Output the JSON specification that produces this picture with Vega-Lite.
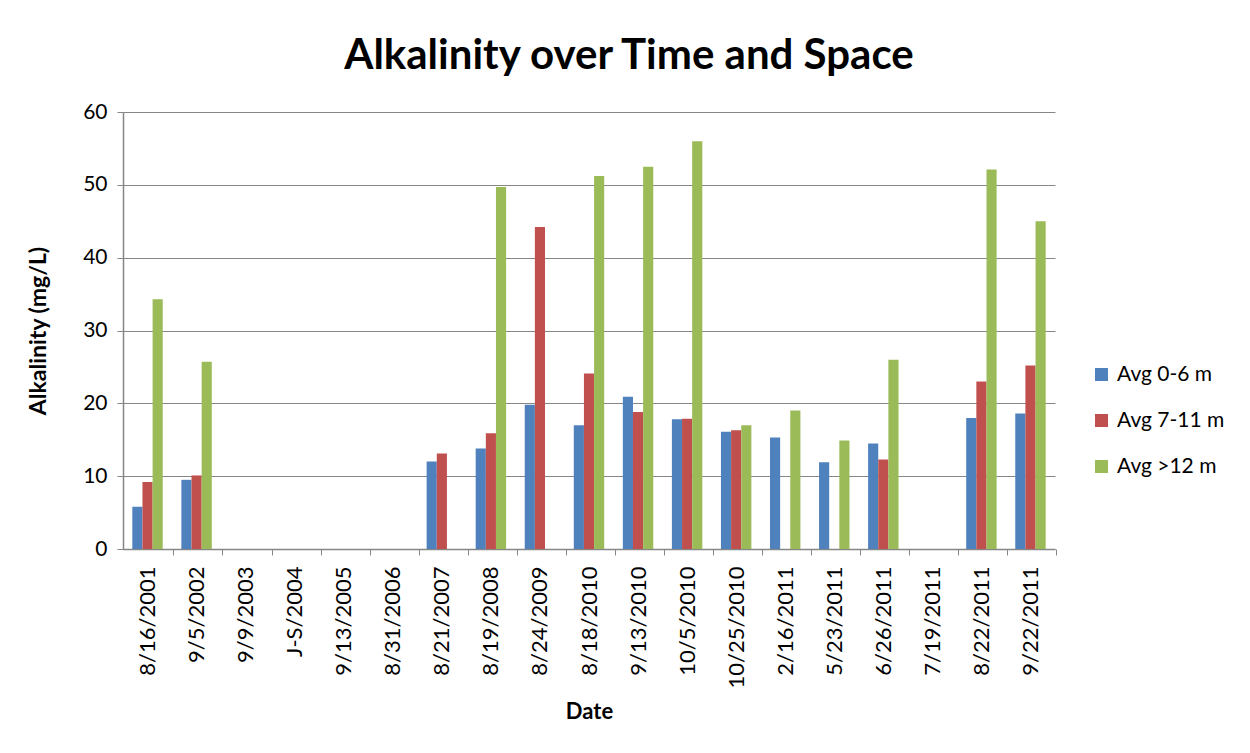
{
  "$schema": "https://vega.github.io/schema/vega-lite/v6.json",
  "autosize": {"type": "none"},
  "padding": {"left": 123, "top": 112, "right": 195, "bottom": 204},
  "width": 932,
  "height": 437,
  "background": "white",
  "title": {
    "text": "Alkalinity over Time and Space",
    "font": "Lato",
    "fontSize": 42,
    "fontWeight": "bold",
    "color": "#000000",
    "anchor": "middle",
    "dx": 40,
    "offset": 23
  },
  "data": {
    "values": [
      {"date": "8/16/2001", "series": "Avg 0-6 m", "value": 5.8},
      {"date": "8/16/2001", "series": "Avg 7-11 m", "value": 9.2},
      {"date": "8/16/2001", "series": "Avg >12 m", "value": 34.3},
      {"date": "9/5/2002", "series": "Avg 0-6 m", "value": 9.5},
      {"date": "9/5/2002", "series": "Avg 7-11 m", "value": 10.1},
      {"date": "9/5/2002", "series": "Avg >12 m", "value": 25.7},
      {"date": "8/21/2007", "series": "Avg 0-6 m", "value": 12.0},
      {"date": "8/21/2007", "series": "Avg 7-11 m", "value": 13.1},
      {"date": "8/19/2008", "series": "Avg 0-6 m", "value": 13.8},
      {"date": "8/19/2008", "series": "Avg 7-11 m", "value": 15.9},
      {"date": "8/19/2008", "series": "Avg >12 m", "value": 49.7},
      {"date": "8/24/2009", "series": "Avg 0-6 m", "value": 19.8},
      {"date": "8/24/2009", "series": "Avg 7-11 m", "value": 44.2},
      {"date": "8/18/2010", "series": "Avg 0-6 m", "value": 17.0},
      {"date": "8/18/2010", "series": "Avg 7-11 m", "value": 24.1},
      {"date": "8/18/2010", "series": "Avg >12 m", "value": 51.2},
      {"date": "9/13/2010", "series": "Avg 0-6 m", "value": 20.9},
      {"date": "9/13/2010", "series": "Avg 7-11 m", "value": 18.8},
      {"date": "9/13/2010", "series": "Avg >12 m", "value": 52.5},
      {"date": "10/5/2010", "series": "Avg 0-6 m", "value": 17.8},
      {"date": "10/5/2010", "series": "Avg 7-11 m", "value": 17.9},
      {"date": "10/5/2010", "series": "Avg >12 m", "value": 56.0},
      {"date": "10/25/2010", "series": "Avg 0-6 m", "value": 16.1},
      {"date": "10/25/2010", "series": "Avg 7-11 m", "value": 16.3},
      {"date": "10/25/2010", "series": "Avg >12 m", "value": 17.0},
      {"date": "2/16/2011", "series": "Avg 0-6 m", "value": 15.3},
      {"date": "2/16/2011", "series": "Avg >12 m", "value": 19.0},
      {"date": "5/23/2011", "series": "Avg 0-6 m", "value": 11.9},
      {"date": "5/23/2011", "series": "Avg >12 m", "value": 14.9},
      {"date": "6/26/2011", "series": "Avg 0-6 m", "value": 14.5},
      {"date": "6/26/2011", "series": "Avg 7-11 m", "value": 12.3},
      {"date": "6/26/2011", "series": "Avg >12 m", "value": 26.0},
      {"date": "8/22/2011", "series": "Avg 0-6 m", "value": 18.0},
      {"date": "8/22/2011", "series": "Avg 7-11 m", "value": 23.0},
      {"date": "8/22/2011", "series": "Avg >12 m", "value": 52.1},
      {"date": "9/22/2011", "series": "Avg 0-6 m", "value": 18.6},
      {"date": "9/22/2011", "series": "Avg 7-11 m", "value": 25.2},
      {"date": "9/22/2011", "series": "Avg >12 m", "value": 45.0}
    ]
  },
  "mark": {"type": "bar"},
  "encoding": {
    "x": {
      "field": "date",
      "type": "nominal",
      "scale": {
        "domain": ["8/16/2001", "9/5/2002", "9/9/2003", "J-S/2004", "9/13/2005", "8/31/2006", "8/21/2007", "8/19/2008", "8/24/2009", "8/18/2010", "9/13/2010", "10/5/2010", "10/25/2010", "2/16/2011", "5/23/2011", "6/26/2011", "7/19/2011", "8/22/2011", "9/22/2011"],
        "paddingInner": 0.38,
        "paddingOuter": 0.19
      },
      "axis": {
        "title": "Date",
        "titleFont": "Lato",
        "titleFontSize": 22,
        "titleFontWeight": "bold",
        "titleColor": "#000000",
        "titlePadding": 14,
        "labelFont": "Lato",
        "labelFontSize": 22,
        "labelColor": "#000000",
        "labelAngle": -90,
        "labelPadding": 11,
        "tickOffset": 25.9,
        "labelOffset": -25.9,
        "tickSize": 6,
        "tickColor": "#868686",
        "domainColor": "#868686",
        "domainWidth": 1.5,
        "grid": false
      }
    },
    "xOffset": {
      "field": "series",
      "type": "nominal",
      "scale": {"domain": ["Avg 0-6 m", "Avg 7-11 m", "Avg >12 m"], "paddingInner": 0, "paddingOuter": 0}
    },
    "y": {
      "field": "value",
      "type": "quantitative",
      "scale": {"domain": [0, 60], "nice": false},
      "axis": {
        "title": "Alkalinity (mg/L)",
        "titleFont": "Lato",
        "titleFontSize": 23,
        "titleFontWeight": "bold",
        "titleColor": "#000000",
        "titlePadding": 32,
        "values": [0, 10, 20, 30, 40, 50, 60],
        "labelFont": "Lato",
        "labelFontSize": 21,
        "labelColor": "#000000",
        "labelPadding": 10,
        "tickSize": 6,
        "tickColor": "#868686",
        "domainColor": "#868686",
        "domainWidth": 1.5,
        "grid": true,
        "gridColor": "#868686",
        "gridWidth": 1.2
      }
    },
    "color": {
      "field": "series",
      "type": "nominal",
      "scale": {
        "domain": ["Avg 0-6 m", "Avg 7-11 m", "Avg >12 m"],
        "range": ["#4F81BD", "#C0504D", "#9BBB59"]
      },
      "legend": {
        "title": null,
        "orient": "none",
        "legendX": 968,
        "legendY": 252,
        "symbolType": "square",
        "symbolSize": 169,
        "symbolStrokeWidth": 0,
        "labelFont": "Lato",
        "labelFontSize": 21,
        "labelColor": "#000000",
        "rowPadding": 24,
        "labelOffset": 5
      }
    }
  },
  "config": {
    "view": {"stroke": null}
  }
}
